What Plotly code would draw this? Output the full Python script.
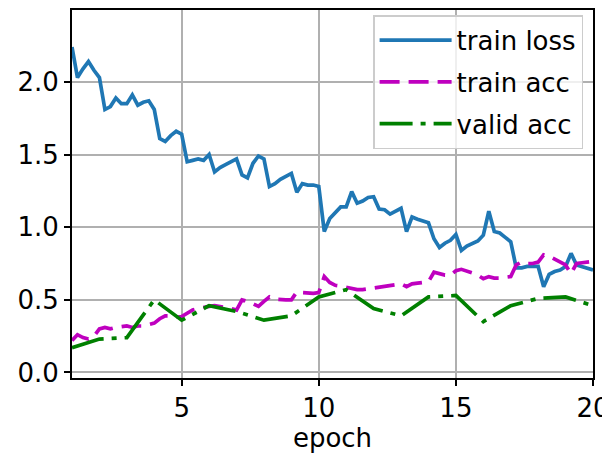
import plotly.graph_objects as go

# x positions: 5 measurements per epoch for the training curves, 1 per epoch for validation
fine_epochs = [round(1.0 + 0.2 * i, 1) for i in range(96)]
epochs = list(range(1, 21))

train_loss = [
    2.24, 2.03, 2.09, 2.14, 2.08, 2.03, 1.81, 1.83, 1.89, 1.85, 1.85, 1.91, 1.84, 1.86, 1.87,
    1.81, 1.61, 1.59, 1.63, 1.66, 1.64,
    1.45, 1.46, 1.47, 1.46, 1.50, 1.38, 1.41, 1.43, 1.45, 1.47, 1.36, 1.34, 1.44, 1.49, 1.47,
    1.28, 1.30, 1.33, 1.35, 1.37, 1.24, 1.30, 1.29, 1.29, 1.28,
    0.97, 1.06, 1.10, 1.14, 1.14, 1.245, 1.165, 1.18, 1.205, 1.21, 1.125, 1.12, 1.09, 1.11, 1.13,
    0.97, 1.07, 1.055, 1.04, 1.03, 0.92, 0.86, 0.89, 0.91, 0.95,
    0.84, 0.87, 0.885, 0.905, 0.945, 1.11, 0.97, 0.96, 0.93, 0.90, 0.72, 0.72, 0.73, 0.73, 0.73,
    0.59, 0.675, 0.695, 0.705, 0.73, 0.82, 0.74, 0.73, 0.72, 0.705,
]
train_acc = [
    0.22, 0.26, 0.24, 0.23, 0.25, 0.30, 0.31, 0.30, 0.31, 0.315, 0.32, 0.31, 0.32, 0.32, 0.33,
    0.34, 0.37, 0.39, 0.39, 0.38, 0.385,
    0.41, 0.43, 0.44, 0.45, 0.455, 0.46, 0.455, 0.45, 0.44, 0.43, 0.50, 0.49, 0.47, 0.455, 0.49,
    0.52, 0.505, 0.50, 0.50, 0.50, 0.555, 0.55, 0.545, 0.545, 0.55,
    0.66, 0.62, 0.60, 0.595, 0.585, 0.575, 0.57, 0.57, 0.575, 0.585, 0.59, 0.59, 0.60, 0.605, 0.61,
    0.59, 0.61, 0.615, 0.62, 0.625, 0.69, 0.68, 0.67, 0.67, 0.70,
    0.71, 0.70, 0.685, 0.67, 0.645, 0.66, 0.65, 0.65, 0.655, 0.66, 0.74, 0.76, 0.75, 0.75, 0.76,
    0.81, 0.80, 0.78, 0.76, 0.74, 0.68, 0.75, 0.755, 0.76, 0.765,
]
valid_acc = [0.17, 0.23, 0.24, 0.50, 0.36, 0.46, 0.42, 0.36, 0.39, 0.52,
             0.57, 0.44, 0.39, 0.52, 0.53, 0.35, 0.46, 0.51, 0.52, 0.46]

y_ticks = [0.0, 0.5, 1.0, 1.5, 2.0]
x_ticks = [5, 10, 15, 20]

FONT = "DejaVu Sans"
FS = 26
LW = 3.7
fig = go.Figure()
fig.add_trace(go.Scatter(x=fine_epochs, y=train_loss, mode="lines", name="train loss",
                         legendgroup="a", line=dict(color="#1f77b4", width=LW)))
fig.add_trace(go.Scatter(x=fine_epochs, y=train_acc, mode="lines", name="train acc",
                         legendgroup="b", line=dict(color="#bf00bf", width=LW, dash="20px,9px")))
fig.add_trace(go.Scatter(x=epochs, y=valid_acc, mode="lines", name="valid acc",
                         legendgroup="c", line=dict(color="#008000", width=LW,
                                                    dash="33px,8px,5px,8px")))

axis_common = dict(showline=True, linecolor="black", linewidth=1.8, mirror=True,
                   ticks="outside", ticklen=6, tickwidth=1.5, tickcolor="black",
                   showgrid=True, gridcolor="#b0b0b0", gridwidth=1.6, zeroline=False,
                   automargin=False,
                   tickfont=dict(family=FONT, size=FS, color="black"))
fig.update_xaxes(range=[1, 20], tickvals=x_ticks,
                 title=dict(text="epoch", font=dict(family=FONT, size=FS, color="black"),
                            standoff=6),
                 **axis_common)
fig.update_yaxes(range=[-0.038, 2.495], tickvals=y_ticks, tickformat=".1f", **axis_common)

# the page body adds an 8px offset, so margins are set 8px smaller on the left/top
fig.update_layout(
    width=610, height=458,
    margin=dict(l=64, r=25, t=2, b=88),
    paper_bgcolor="white", plot_bgcolor="white",
    font=dict(family=FONT, size=FS, color="black"),
    legend=dict(x=0.981, y=0.986, xanchor="right", yanchor="top",
                bgcolor="rgba(255,255,255,0.8)", bordercolor="#cccccc", borderwidth=1.5,
                tracegroupgap=5, itemwidth=72,
                font=dict(family=FONT, size=FS, color="black")),
)
fig.write_html("out.html")
